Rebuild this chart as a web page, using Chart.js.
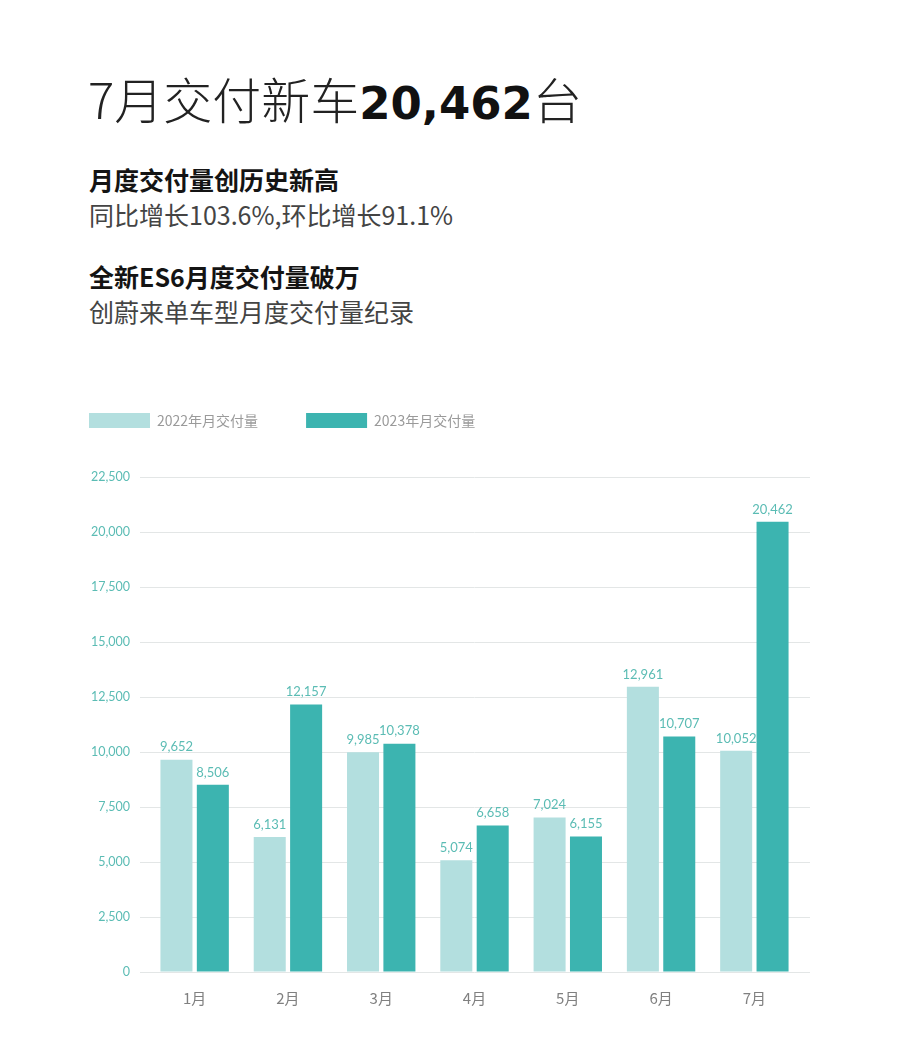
<!DOCTYPE html>
<html>
<head>
<meta charset="utf-8">
<script src="https://cdn.jsdelivr.net/npm/chart.js@4"></script>
<style>
  html, body { margin: 0; padding: 0; background: #fff; }
  body { width: 900px; height: 1052px; position: relative; overflow: hidden;
         font-family: "Noto Sans CJK SC", "Noto Sans", sans-serif; }
  .title { position: absolute; left: 88px; top: 68px; font-size: 49px; color: #222; font-weight: 300; white-space: nowrap; line-height: 60px; }
  .title b { font-weight: 700; color: #111; font-size: 45px; font-family: "DejaVu Sans", "Noto Sans", sans-serif; }
  .h { position: absolute; left: 89px; font-size: 25px; font-weight: 700; color: #141414; white-space: nowrap; line-height: 30px; }
  .p { position: absolute; left: 89px; font-size: 25px; font-weight: 400; color: #444; white-space: nowrap; line-height: 30px; }
  #wrap { position: absolute; left: 80px; top: 365px; width: 740px; height: 657px; }
</style>
</head>
<body>
<div class="title">7月交付新车<b>20,462</b>台</div>
<div class="h" style="top:164px">月度交付量创历史新高</div>
<div class="p" style="top:199px">同比增长103.6%,环比增长91.1%</div>
<div class="h" style="top:261px">全新ES6月度交付量破万</div>
<div class="p" style="top:296px">创蔚来单车型月度交付量纪录</div>
<div id="wrap"><canvas id="c"></canvas></div>
<script>
const categories = ["1月", "2月", "3月", "4月", "5月", "6月", "7月"];
const seriesNames = ["2022年月交付量", "2023年月交付量"];
const deliveries2022 = [9652, 6131, 9985, 5074, 7024, 12961, 10052];
const deliveries2023 = [8506, 12157, 10378, 6658, 6155, 10707, 20462];
const yTicks = [0, 2500, 5000, 7500, 10000, 12500, 15000, 17500, 20000, 22500];

const fmt = v => v.toLocaleString('en-US');

const valueLabels = {
  id: 'valueLabels',
  afterDatasetsDraw(chart) {
    const ctx = chart.ctx;
    ctx.save();
    ctx.font = '400 13px "Lato", "Noto Sans", sans-serif';
    ctx.fillStyle = '#5bbcb4';
    ctx.textAlign = 'center';
    ctx.textBaseline = 'bottom';
    chart.data.datasets.forEach((ds, i) => {
      chart.getDatasetMeta(i).data.forEach((bar, j) => {
        ctx.fillText(fmt(ds.data[j]), bar.x, bar.y - 6);
      });
    });
    ctx.restore();
  }
};

const legendLayout = {
  id: 'legendLayout',
  beforeInit(chart) {
    const orig = chart.legend.fit;
    chart.legend.fit = function () {
      orig.bind(chart.legend)();
      this.height = 112;
    };
  },
  afterLayout(chart) {
    chart.legend.left -= 39;
  }
};

new Chart(document.getElementById('c'), {
  type: 'bar',
  data: {
    labels: categories,
    datasets: [
      { label: seriesNames[0], data: deliveries2022, backgroundColor: '#b3dfdf', borderWidth: 0 },
      { label: seriesNames[1], data: deliveries2023, backgroundColor: '#3cb4b0', borderWidth: 0 }
    ]
  },
  options: {
    responsive: true,
    maintainAspectRatio: false,
    animation: false,
    devicePixelRatio: 1,
    layout: { padding: { top: 0, right: 10, left: 0, bottom: 0 } },
    datasets: { bar: { barPercentage: 0.88, categoryPercentage: 0.78 } },
    plugins: {
      legend: {
        position: 'top',
        align: 'start',
        labels: {
          boxWidth: 61,
          boxHeight: 15,
          padding: 48,
          color: '#9a9a9a',
          font: { size: 14, family: '"Noto Sans CJK SC", sans-serif' }
        }
      },
      tooltip: { enabled: false }
    },
    scales: {
      x: {
        grid: { display: false },
        border: { display: false },
        ticks: { color: '#808080', padding: 9, font: { size: 15, family: '"Noto Sans CJK SC", sans-serif' } },
        afterFit(s) { s.height = 50; }
      },
      y: {
        min: 0,
        max: 22500,
        afterBuildTicks(s) { s.ticks = yTicks.map(v => ({ value: v })); },
        grid: { color: '#e3e6e6', lineWidth: 1, drawTicks: true, tickLength: 8, tickColor: '#e3e6e6' },
        border: { display: false },
        ticks: { color: '#5bbcb4', padding: 10, font: { size: 12.5, family: '"Lato", "Noto Sans", sans-serif' }, callback: v => fmt(v) },
        afterFit(s) { s.width = 68; }
      },
      y2: {
        position: 'right',
        min: 0,
        max: 22500,
        afterBuildTicks(s) { s.ticks = yTicks.map(v => ({ value: v })); },
        grid: { drawOnChartArea: false, drawTicks: true, tickLength: 9, tickColor: '#e3e6e6', color: '#e3e6e6' },
        border: { display: false },
        ticks: { display: false },
        afterFit(s) { s.width = 9; }
      }
    }
  },
  plugins: [valueLabels, legendLayout]
});
</script>
</body>
</html>
